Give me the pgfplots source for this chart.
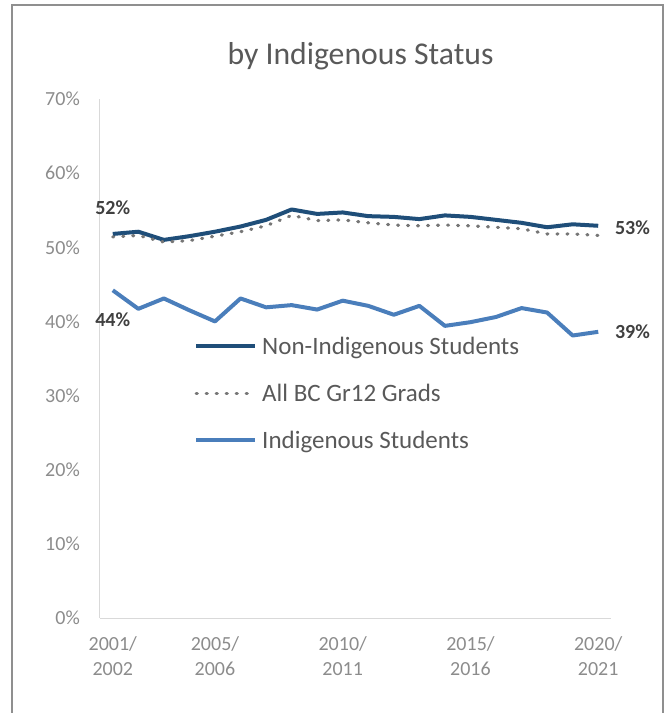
\documentclass[border=0pt]{standalone}
\usepackage{pgfplots}
\pgfplotsset{compat=1.18}
\usepackage{fontspec}
\setmainfont{Carlito}
\definecolor{navy}{HTML}{1F4E79}
\definecolor{indblue}{HTML}{4A7EBB}
\definecolor{dotgray}{HTML}{767676}
\definecolor{txtgray}{HTML}{595959}
\definecolor{tickgray}{HTML}{8C8C8C}
\definecolor{axgray}{HTML}{D9D9D9}
\definecolor{framegray}{HTML}{8F8F8F}
\definecolor{lblgray}{HTML}{404040}
\begin{document}
\begin{tikzpicture}
\useasboundingbox (-100pt,-95pt) rectangle (566pt,618pt);
\draw[framegray, line width=1.5pt] (-88pt,-110pt) -- (-88pt,613pt) -- (563pt,613pt) -- (563pt,-110pt);
\begin{axis}[
  at={(0pt,0pt)}, anchor=south west,
  scale only axis, width=511pt, height=519pt,
  xmin=-0.5, xmax=19.5, ymin=0, ymax=70,
  axis x line*=bottom, axis y line*=left,
  axis line style={axgray, line width=1pt},
  major tick length=0pt,
  xtick={0,4,9,14,19},
  xticklabels={{2001/\\2002},{2005/\\2006},{2010/\\2011},{2015/\\2016},{2020/\\2021}},
  x tick label style={align=center, font=\fontsize{20}{25}\selectfont, text=tickgray, inner sep=0pt, anchor=north, yshift=-18pt},
  ytick={0,10,...,70},
  yticklabel={\pgfmathprintnumber{\tick}\%},
  y tick label style={font=\fontsize{20}{24}\selectfont, text=tickgray, inner sep=0pt, anchor=east, xshift=-20pt},
  /pgf/number format/assume math mode=true,
  clip=false,
  legend style={draw=none, fill=none, at={(rel axis cs:0.1840,0.5396)}, anchor=north west, inner sep=0pt, row sep=31pt,
    font=\fontsize{25}{25}\selectfont, text=txtgray,
    nodes={inner sep=0pt, text height=16pt, text depth=0pt},
    /tikz/every odd column/.append style={column sep=5pt}},
  legend cell align=left,
  legend image code/.code={\draw[#1] (0pt,0pt) -- (59pt,0pt);},
]
\addplot[navy, line width=4pt, line join=round] coordinates {
(0,51.8) (1,52.1) (2,51.0) (3,51.5) (4,52.1) (5,52.8) (6,53.7) (7,55.1) (8,54.5) (9,54.7)
(10,54.2) (11,54.1) (12,53.8) (13,54.3) (14,54.1) (15,53.7) (16,53.3) (17,52.7) (18,53.1) (19,52.9)};
\addlegendentry{Non-Indigenous Students}
\addplot[dotgray, line width=3.2pt, line cap=round, dash pattern=on 1pt off 9pt] coordinates {
(0,51.4) (1,51.6) (2,50.7) (3,50.9) (4,51.5) (5,52.1) (6,52.9) (7,54.3) (8,53.6) (9,53.7)
(10,53.3) (11,53.0) (12,52.9) (13,53.0) (14,52.9) (15,52.7) (16,52.5) (17,51.8) (18,51.8) (19,51.6)};
\addlegendentry{All BC Gr12 Grads}
\addplot[indblue, line width=4pt, line join=round] coordinates {
(0,44.2) (1,41.7) (2,43.1) (3,41.5) (4,40.0) (5,43.1) (6,41.9) (7,42.2) (8,41.6) (9,42.8)
(10,42.1) (11,40.9) (12,42.1) (13,39.4) (14,39.9) (15,40.6) (16,41.8) (17,41.2) (18,38.1) (19,38.6)};
\addlegendentry{Indigenous Students}
\node[font=\bfseries\fontsize{20}{20}\selectfont, text=lblgray] at (axis cs:0,55.3) {52\%};
\node[font=\bfseries\fontsize{20}{20}\selectfont, text=lblgray] at (axis cs:0,40.2) {44\%};
\node[font=\bfseries\fontsize{20}{20}\selectfont, text=lblgray] at (axis cs:20.34,52.6) {53\%};
\node[font=\bfseries\fontsize{20}{20}\selectfont, text=lblgray] at (axis cs:20.34,38.6) {39\%};
\end{axis}
\node[font=\fontsize{31.7}{32}\selectfont, text=txtgray] at (260.5pt,562pt) {by Indigenous Status};
\end{tikzpicture}
\end{document}
